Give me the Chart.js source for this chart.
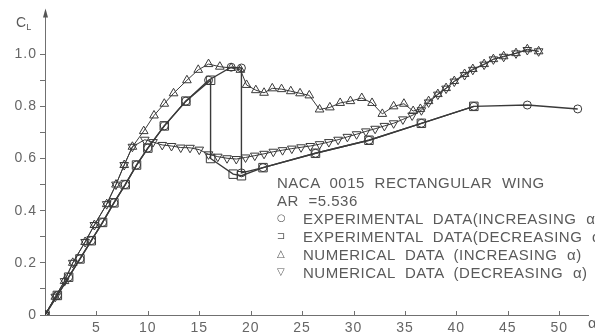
<!DOCTYPE html>
<html>
<head>
<meta charset="utf-8">
<script src="https://cdn.jsdelivr.net/npm/chart.js@4.4.1/dist/chart.umd.min.js"></script>
<style>
  html, body { margin: 0; padding: 0; background: #fff; width: 595px; height: 335px; overflow: hidden; }
  #wrap { position: relative; width: 595px; height: 335px; }
  #c { position: absolute; left: 0; top: 0; }
  .t { position: absolute; font-family: "Liberation Sans", Arial, sans-serif; color: #5a5a5a;
       white-space: nowrap; font-size: 15px; line-height: 1; }
  .row { letter-spacing: 0.5px; word-spacing: 5px; }
  .sym { position: absolute; font-family: "DejaVu Sans", sans-serif; font-size: 10px; color: #555; line-height: 1; }
  sub { font-size: 9px; vertical-align: -3px; }
</style>
</head>
<body>
<div id="wrap">
  <canvas id="c" width="595" height="335"></canvas>
  <div class="t" style="left:16px;top:15px;font-size:14px;">C<sub>L</sub></div>
  <div class="t" style="left:588px;top:315px;">α</div>

  <div class="t row" style="left:277px;top:175px;">NACA 0015 RECTANGULAR WING</div>
  <div class="t row" style="left:277px;top:193px;">AR =5.536</div>

  <div class="sym" style="left:277px;top:213px;">○</div>
  <div class="t row" style="left:303px;top:211px;">EXPERIMENTAL DATA(INCREASING α</div>

  <div class="sym" style="left:277px;top:231px;">⊐</div>
  <div class="t row" style="left:303px;top:229px;">EXPERIMENTAL DATA(DECREASING α</div>

  <div class="sym" style="left:277px;top:249px;">△</div>
  <div class="t row" style="left:303px;top:247px;">NUMERICAL DATA (INCREASING α)</div>

  <div class="sym" style="left:277px;top:267px;">▽</div>
  <div class="t row" style="left:303px;top:265px;">NUMERICAL DATA (DECREASING α)</div>
</div>

<script>
// Lift coefficient C_L against angle of attack (degrees), NACA 0015 wing, AR = 5.536.

// Numerical data, increasing angle of attack
const numIncAlpha = [0, 1.0, 1.9, 2.7, 3.9, 4.8, 6.0, 6.9, 7.7, 8.5,
  9.6, 10.6, 11.6, 12.5, 13.8, 14.9, 15.9, 17.0, 18.1, 19.0,
  19.6, 20.5, 21.3, 22.1, 23.0, 23.9, 24.8, 25.7, 26.7, 27.7,
  28.7, 29.7, 30.8, 31.8, 32.8, 33.9, 34.9, 35.8, 36.5, 37.3,
  38.2, 39.0, 39.8, 40.8, 41.6, 42.7, 43.6, 44.6, 45.8, 46.9, 48.0];
const numIncCL = [0, 0.07, 0.13, 0.20, 0.28, 0.345, 0.425, 0.50, 0.575, 0.645,
  0.705, 0.765, 0.81, 0.85, 0.90, 0.94, 0.962, 0.952, 0.947, 0.94,
  0.882, 0.862, 0.852, 0.869, 0.866, 0.858, 0.85, 0.842, 0.788, 0.796,
  0.813, 0.82, 0.832, 0.813, 0.771, 0.80, 0.81, 0.782, 0.79, 0.82,
  0.847, 0.87, 0.897, 0.924, 0.943, 0.962, 0.981, 0.992, 1.004, 1.019, 1.011];

// Numerical data, decreasing angle of attack
const numDecAlpha = [48.0, 46.9, 45.8, 44.6, 43.6, 42.7, 41.6, 40.8, 39.8, 39.0,
  38.2, 37.3, 36.6, 35.7, 34.8, 33.9, 33.0, 32.1, 31.2, 30.3,
  29.4, 28.5, 27.6, 26.7, 25.8, 24.9, 24.0, 23.1, 22.2, 21.3,
  20.4, 19.5, 18.6, 17.7, 16.8, 15.9, 15.0, 14.1, 13.2, 12.3,
  11.4, 10.5, 9.7, 8.5, 7.7, 6.9, 6.0, 4.8, 3.9, 2.7,
  1.9, 1.0, 0];
const numDecCL = [1.011, 1.016, 1.003, 0.99, 0.98, 0.96, 0.94, 0.92, 0.895, 0.868,
  0.845, 0.815, 0.785, 0.765, 0.75, 0.735, 0.725, 0.714, 0.704, 0.693,
  0.683, 0.672, 0.663, 0.655, 0.648, 0.643, 0.638, 0.632, 0.626, 0.618,
  0.611, 0.604, 0.598, 0.601, 0.607, 0.616, 0.634, 0.641, 0.642, 0.648,
  0.652, 0.663, 0.672, 0.645, 0.575, 0.50, 0.425, 0.345, 0.28, 0.20,
  0.13, 0.07, 0];

// Experimental data, increasing angle of attack
const expIncAlpha = [0, 1.2, 2.3, 3.4, 4.5, 5.6, 6.7, 7.8, 8.9, 10.0,
  11.6, 13.7, 15.9, 18.1, 19.1, 19.1, 21.2, 26.3, 31.5, 36.6, 41.7, 46.9, 51.8];
const expIncCL = [0, 0.075, 0.145, 0.215, 0.285, 0.355, 0.43, 0.50, 0.575, 0.64,
  0.725, 0.82, 0.90, 0.95, 0.947, 0.545, 0.565, 0.62, 0.67, 0.735, 0.80, 0.805, 0.79];

// Experimental data, decreasing angle of attack
const expDecAlpha = [41.7, 36.6, 31.5, 26.3, 21.2, 19.1, 18.3, 16.1, 16.1, 13.7,
  11.6, 10.0, 8.9, 7.8, 6.7, 5.6, 4.5, 3.4, 2.3, 1.2, 0];
const expDecCL = [0.80, 0.735, 0.67, 0.62, 0.565, 0.534, 0.54, 0.60, 0.90, 0.82,
  0.725, 0.64, 0.575, 0.50, 0.43, 0.355, 0.285, 0.215, 0.145, 0.075, 0];

// Axis ticks
const xTickValues = [5, 10, 15, 20, 25, 30, 35, 40, 45, 50];
const xTickLabels = ['5', '10', '15', '20', '25', '30', '35', '40', '45', '50'];
const yTickValues = [0, 0.1, 0.2, 0.3, 0.4, 0.5, 0.6, 0.7, 0.8, 0.9, 1.0];
const yTickLabels = ['0', '', '0.2', '', '0.4', '', '0.6', '', '0.8', '', '1.0'];

const pts = (xs, ys) => xs.map((x, i) => ({ x: x, y: ys[i] }));

const INK = '#3a3a3a';
const AXIS = '#707070';
const LABEL = '#666';

function series(label, xs, ys, style, radius, rot, width) {
  return {
    label: label,
    data: pts(xs, ys),
    borderColor: INK,
    borderWidth: width,
    pointStyle: style,
    pointRadius: radius,
    pointRotation: rot,
    pointBorderColor: INK,
    pointBorderWidth: 1,
    pointBackgroundColor: 'rgba(255,255,255,0)',
    tension: 0,
    fill: false
  };
}

// Extra axis decoration: x tick marks pointing into the plot and an arrowhead on the C_L axis
const axisDecor = {
  id: 'axisDecor',
  beforeDraw(chart) {
    chart.ctx.letterSpacing = '1px';
  },
  afterDraw(chart) {
    const ctx = chart.ctx;
    const xs = chart.scales.x, ys = chart.scales.y;
    const y0 = ys.getPixelForValue(0);
    ctx.save();
    ctx.strokeStyle = AXIS;
    ctx.lineWidth = 1;
    xTickValues.forEach(v => {
      const px = Math.round(xs.getPixelForValue(v)) + 0.5;
      ctx.beginPath();
      ctx.moveTo(px, y0);
      ctx.lineTo(px, y0 - 4);
      ctx.stroke();
    });
    const ax = Math.round(xs.getPixelForValue(0)) + 0.5;
    const top = chart.chartArea.top;
    ctx.fillStyle = '#555';
    ctx.beginPath();
    ctx.moveTo(ax, top - 3);
    ctx.lineTo(ax - 2.5, top + 6);
    ctx.lineTo(ax + 2.5, top + 6);
    ctx.closePath();
    ctx.fill();
    ctx.restore();
  }
};

new Chart(document.getElementById('c'), {
  type: 'line',
  data: {
    datasets: [
      series('NUMERICAL DATA (DECREASING α)', numDecAlpha, numDecCL, 'triangle', 5, 180, 1),
      series('NUMERICAL DATA (INCREASING α)', numIncAlpha, numIncCL, 'triangle', 5, 0, 1),
      series('EXPERIMENTAL DATA (DECREASING α)', expDecAlpha, expDecCL, 'rect', 6, 0, 1.4),
      series('EXPERIMENTAL DATA (INCREASING α)', expIncAlpha, expIncCL, 'circle', 4, 0, 1.4)
    ]
  },
  options: {
    responsive: false,
    animation: false,
    devicePixelRatio: 1,
    layout: { padding: { left: 0, right: 2, top: 10, bottom: 0 } },
    plugins: { legend: { display: false }, tooltip: { enabled: false } },
    scales: {
      x: {
        type: 'linear',
        min: 0,
        max: 52.8,
        afterFit(s) { s.height = 20; },
        afterBuildTicks(s) { s.ticks = xTickValues.map(v => ({ value: v })); },
        grid: { display: false, drawTicks: false },
        border: { display: true, color: AXIS, width: 1 },
        ticks: {
          autoSkip: false,
          maxRotation: 0,
          padding: 5,
          color: LABEL,
          font: { family: 'Liberation Sans', size: 14 },
          callback: (v) => xTickLabels[xTickValues.indexOf(v)]
        }
      },
      y: {
        type: 'linear',
        min: 0,
        max: 1.164,
        afterFit(s) { s.width = 45; },
        afterBuildTicks(s) { s.ticks = yTickValues.map(v => ({ value: v })); },
        grid: { display: true, drawOnChartArea: false, drawTicks: true, tickLength: 5, color: AXIS },
        border: { display: true, color: AXIS, width: 1 },
        ticks: {
          autoSkip: false,
          padding: 3,
          color: LABEL,
          font: { family: 'Liberation Sans', size: 14 },
          callback: (v) => {
            const i = yTickValues.findIndex(t => Math.abs(t - v) < 1e-6);
            return i < 0 ? '' : yTickLabels[i];
          }
        }
      }
    }
  },
  plugins: [axisDecor]
});
</script>
</body>
</html>
